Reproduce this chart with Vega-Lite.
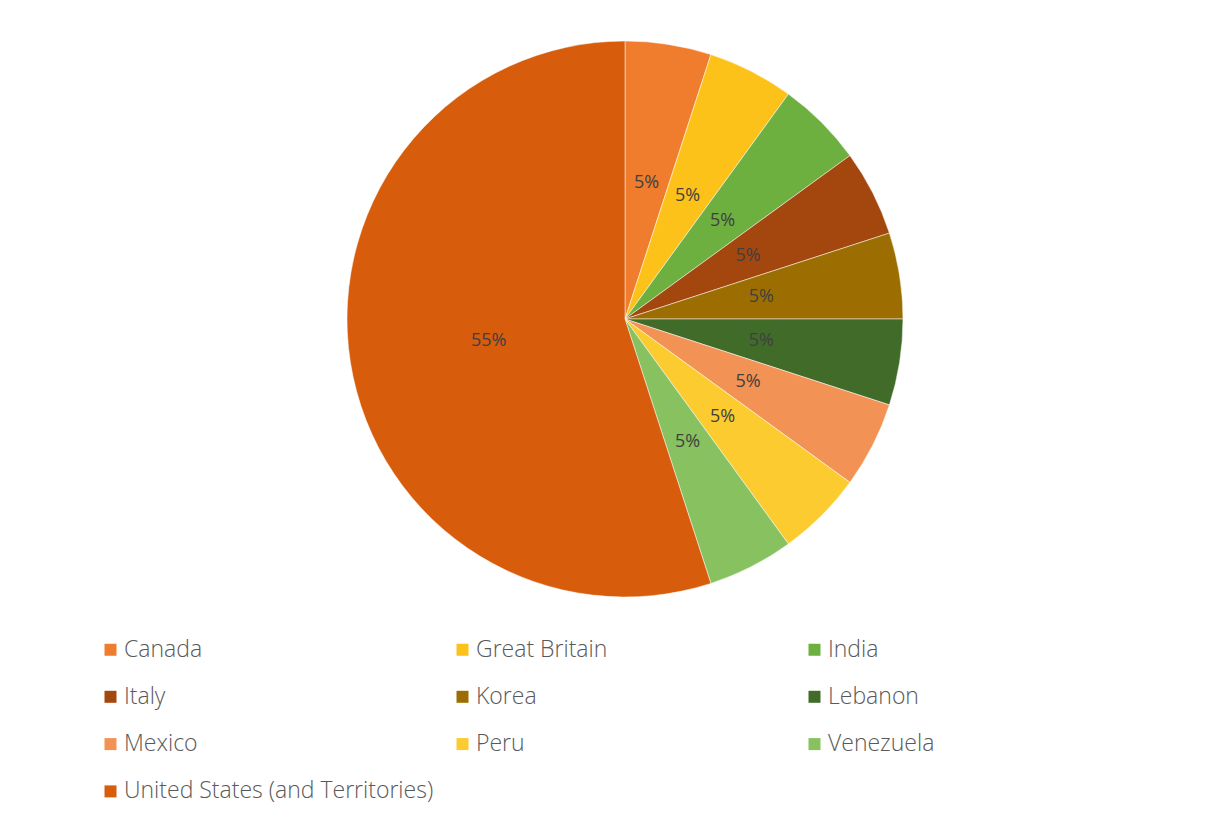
{
  "$schema": "https://vega.github.io/schema/vega-lite/v6.json",
  "width": 1210,
  "height": 638,
  "autosize": {"type": "none"},
  "padding": {"left": 20, "top": 0, "right": 0, "bottom": 182},
  "background": "white",
  "config": {"view": {"stroke": null}},
  "data": {
    "values": [
      {"country": "Canada", "share": 0.05, "seq": 1},
      {"country": "Great Britain", "share": 0.05, "seq": 2},
      {"country": "India", "share": 0.05, "seq": 3},
      {"country": "Italy", "share": 0.05, "seq": 4},
      {"country": "Korea", "share": 0.05, "seq": 5},
      {"country": "Lebanon", "share": 0.05, "seq": 6},
      {"country": "Mexico", "share": 0.05, "seq": 7},
      {"country": "Peru", "share": 0.05, "seq": 8},
      {"country": "Venezuela", "share": 0.05, "seq": 9},
      {"country": "United States (and Territories)", "share": 0.55, "seq": 10}
    ]
  },
  "encoding": {
    "theta": {"field": "share", "type": "quantitative", "stack": true},
    "order": {"field": "seq", "type": "quantitative"}
  },
  "layer": [
    {
      "mark": {"type": "arc", "radius": 278, "stroke": "white", "strokeWidth": 0.5},
      "encoding": {
        "color": {
          "field": "country",
          "type": "nominal",
          "scale": {
            "domain": ["Canada", "Great Britain", "India", "Italy", "Korea", "Lebanon", "Mexico", "Peru", "Venezuela", "United States (and Territories)"],
            "range": ["#F07C2E", "#FDC21A", "#6DB040", "#A4470F", "#9C6E02", "#416B29", "#F29355", "#FBCB2F", "#87C160", "#D75C0C"]
          },
          "legend": {
            "title": null,
            "orient": "none",
            "legendX": 79,
            "legendY": 638,
            "columns": 3,
            "direction": "horizontal",
            "gridAlign": "all",
            "columnPadding": 17,
            "rowPadding": 23.3,
            "symbolType": "square",
            "symbolSize": 144,
            "symbolStrokeWidth": 0,
            "labelFont": "Open Sans",
            "labelFontSize": 23,
            "labelFontWeight": 300,
            "labelColor": "#595959",
            "labelOffset": 2,
            "labelLimit": 400
          }
        }
      }
    },
    {
      "mark": {"type": "text", "radius": 138, "font": "Open Sans", "fontSize": 18, "color": "#404040"},
      "encoding": {
        "text": {"field": "share", "type": "quantitative", "format": ".0%"}
      }
    }
  ]
}
